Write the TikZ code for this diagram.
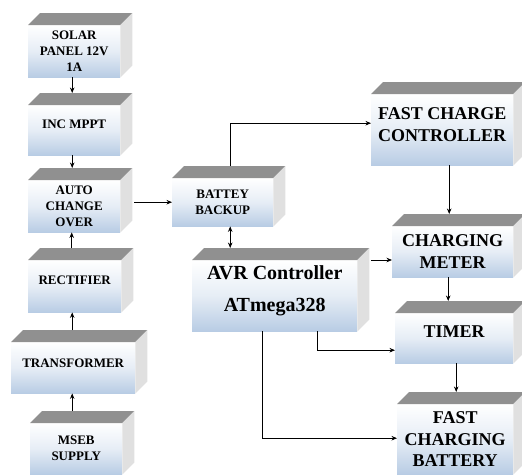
\documentclass[tikz,border=0pt]{standalone}
\usepackage{fontspec}
\newfontfamily\boxfont{Liberation Serif}
\usetikzlibrary{calc,arrows.meta}
\definecolor{boxblue}{HTML}{B8CCE4}
\definecolor{topgray}{HTML}{909090}
\definecolor{sidegray}{HTML}{E0E0E0}
\tikzset{
  front/.style={shading=axis, top color=white, bottom color=boxblue, middle color=boxblue!35,
    inner sep=0pt, anchor=north west, align=center, font=\boxfont\bfseries\fontsize{13}{16}\selectfont},
  bigtxt/.style={font=\boxfont\bfseries\fontsize{18}{21.5}\selectfont},
  avrtxt/.style={font=\boxfont\bfseries\fontsize{20}{32}\selectfont},
  topface/.style={fill=topgray},
  sideface/.style={fill=sidegray},
  arr/.style={draw=black, line width=0.8pt, -{Stealth[length=5.5pt,width=4.5pt]}},
  arrtwo/.style={draw=black, line width=0.8pt, {Stealth[length=5.5pt,width=4.5pt]}-{Stealth[length=5.5pt,width=4.5pt]}}
}
\newcommand\blkbox[7]{% name, x0, y0, x1, y1, extra options, text
  \node[front, minimum width=#4pt-#2pt, minimum height=#5pt-#3pt, #6] (#1) at (#2,#3) {#7};
  \fill[topface] (#1.north west) -- ++(12,-12) -- ($(#1.north east)+(12,-12)$) -- (#1.north east) -- cycle;
  \fill[sideface] (#1.north east) -- ++(12,-12) -- ($(#1.south east)+(12,-12)$) -- (#1.south east) -- cycle;
  \coordinate (#1-t) at ($(#1.north)+(0,-12)$);
}
\begin{document}
\begin{tikzpicture}[x=1pt,y=-1pt]
\useasboundingbox (0,0) rectangle (522,474);
% left column
\blkbox{solar}{28}{25}{120}{77}{}{SOLAR\\PANEL 12V\\1A}
\blkbox{mppt}{28}{105}{120}{155}{text height=9pt,text depth=12pt}{INC MPPT}
\blkbox{auto}{28}{180}{120}{232}{}{AUTO\\CHANGE\\OVER}
\blkbox{rect}{28}{260}{121}{312}{text height=9pt,text depth=12pt}{RECTIFIER}
\blkbox{trans}{11}{342}{135}{393}{text height=9pt,text depth=10pt}{TRANSFORMER}
\blkbox{mseb}{30}{423}{122}{474}{}{MSEB\\SUPPLY}
% middle
\blkbox{battey}{172}{178}{273}{226}{}{BATTEY\\BACKUP}
\blkbox{avr}{192}{260}{357}{331}{avrtxt,text height=46pt,text depth=13.8pt}{\begin{tabular}[b]{@{}c@{}}AVR Controller\\ATmega328\end{tabular}}
% right column
\blkbox{fast}{371}{94}{513}{165}{bigtxt,text height=34pt,text depth=11pt}{\begin{tabular}[b]{@{}c@{}}FAST CHARGE\\CONTROLLER\end{tabular}}
\blkbox{meter}{392}{226}{513}{277}{bigtxt}{CHARGING\\METER}
\blkbox{timer}{395}{313}{513}{363}{bigtxt,text height=12pt,text depth=14pt}{TIMER}
\blkbox{fcb}{397}{404}{513}{474}{bigtxt}{FAST\\CHARGING\\BATTERY}
% connector anchor points
\coordinate (c1) at ($(solar.south)+(-2,0)$);
\coordinate (c2) at ($(mppt.south)+(-2,0)$);
\coordinate (c3) at ($(rect.north)+(-3,0)$);
\coordinate (c4) at ($(trans.north)+(-1,0)$);
\coordinate (c5) at ($(mseb.north)+(-4,0)$);
\coordinate (c6) at ($(auto.east)+(14,0)$);
\coordinate (c7) at ($(battey.north)+(7.5,-12)$);
\coordinate (c8) at ($(fast.south)+(7,0)$);
\coordinate (c9) at ($(battey.south)+(7.5,0)$);
\coordinate (c10) at ($(avr.north east)+(14,0)$);
\coordinate (c11) at ($(meter.south)+(-4.5,0)$);
\coordinate (c12) at ($(avr.south)+(42.5,0)$);
\coordinate (c13) at ($(timer.south)+(2,0)$);
\coordinate (c14) at ($(avr.south)+(-12.5,0)$);
\coordinate (e7) at ($(fast.west)+(0,-6.5)$);
\coordinate (e12) at ($(timer.west)+(0,12)$);
\coordinate (e14) at ($(fcb.west)+(0,-1)$);
% connectors
\draw[arr] (c1) -- (c1 |- mppt-t);
\draw[arr] (c2) -- (c2 |- auto-t);
\draw[arr] (c3 |- rect-t) -- (c3 |- auto.south);
\draw[arr] (c4 |- trans-t) -- (c4 |- rect.south);
\draw[arr] (c5 |- mseb-t) -- (c5 |- trans.south);
\draw[arr] (c6 |- battey.west) -- (battey.west);
\draw[arr] (c7) |- (e7);
\draw[arr] (c8) -- (c8 |- meter-t);
\draw[arrtwo] (c9) -- (c9 |- avr-t);
\draw[arr] (c10) -- (meter.west |- c10);
\draw[arr] (c11) -- (c11 |- timer-t);
\draw[arr] (c12) |- (e12);
\draw[arr] (c13) -- (c13 |- fcb-t);
\draw[arr] (c14) |- (e14);
\end{tikzpicture}
\end{document}
